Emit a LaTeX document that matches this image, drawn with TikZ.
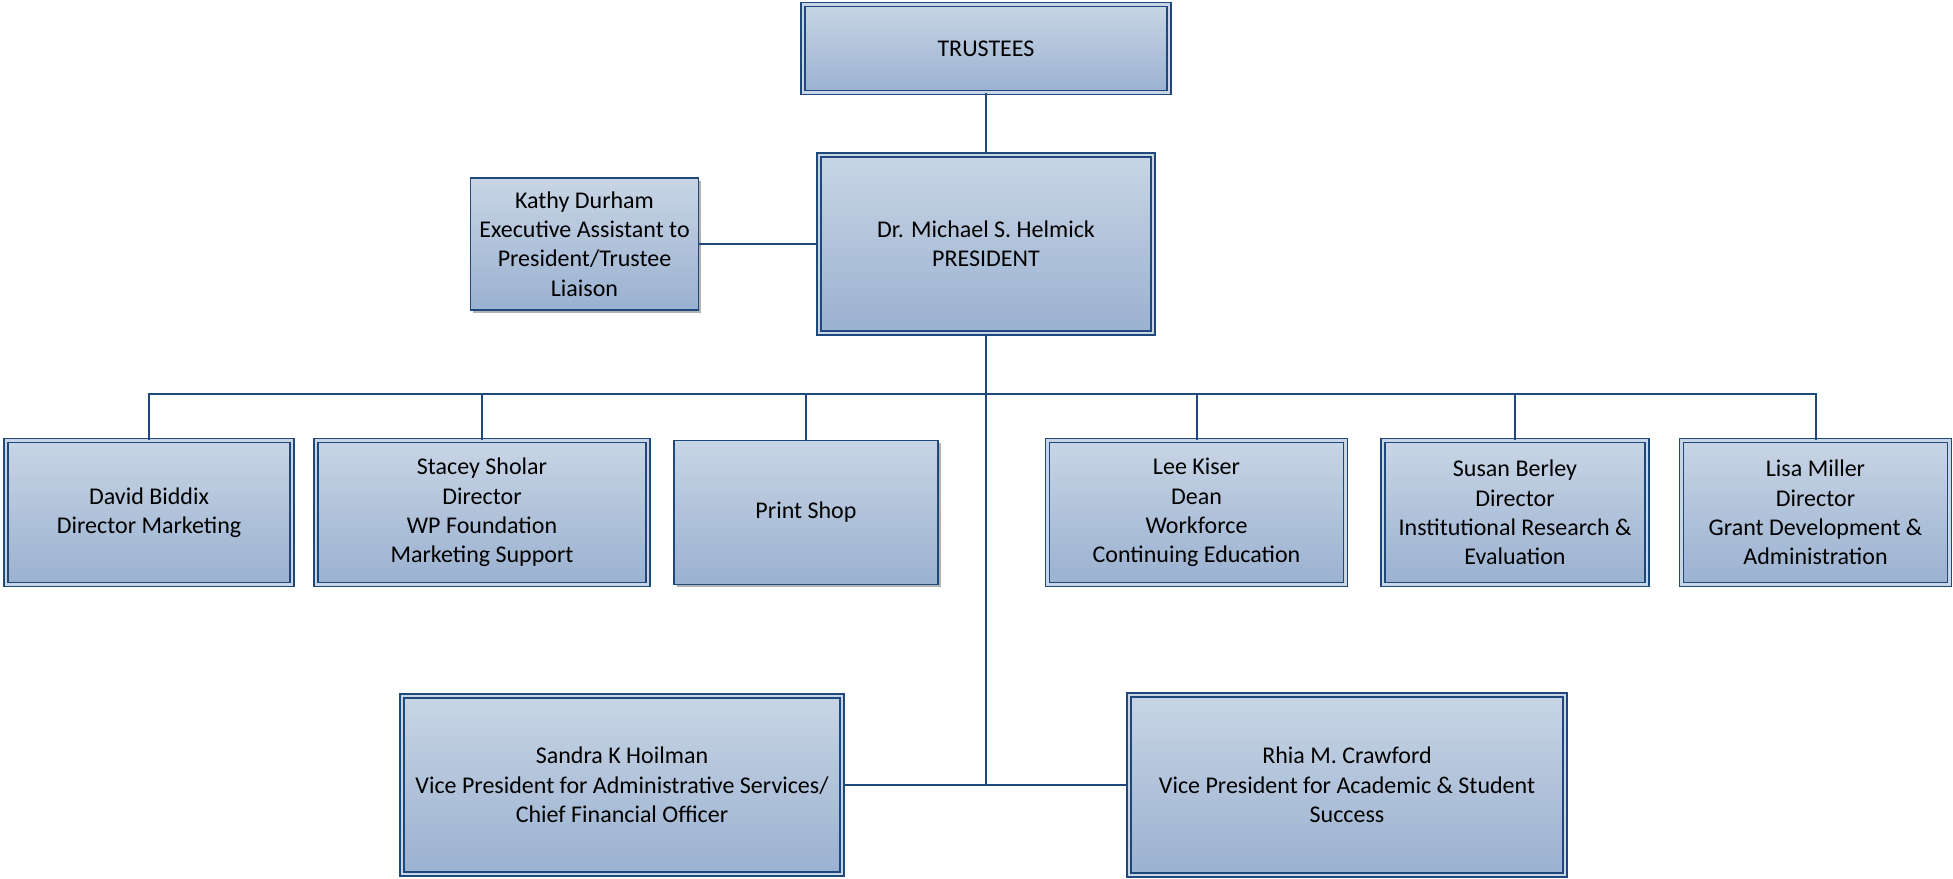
\documentclass[tikz,border=0pt]{standalone}
\usepackage{fontspec}
\setmainfont{Carlito}
\usetikzlibrary{shadows}
\definecolor{orgline}{RGB}{31,73,125}
\definecolor{boxtop}{RGB}{200,213,229}
\definecolor{boxbottom}{RGB}{154,177,208}

\begin{document}
\begin{tikzpicture}[x=0.5pt, y=-0.5pt,
    unit/.style ={draw=orgline, line width=0.8pt, top color=boxtop, bottom color=boxbottom,
      align=center, inner sep=2pt, font=\fontsize{12}{14.7}\selectfont,
      drop shadow={shadow xshift=1.4pt, shadow yshift=-1.4pt, fill=black, opacity=0.3}},
    office/.style ={unit, double=boxtop, double distance=1.1pt},
    link/.style ={draw=orgline, line width=1pt}]
   \useasboundingbox (0,0) rectangle (1953,878);
   \node[office, minimum width=183pt, minimum height=44pt] (trustees) at (986,48.5) {TRUSTEES};
   \node[office, minimum width=167pt, minimum height=89pt] (president) at (986,244) {Dr. Michael S. Helmick\\PRESIDENT};
   \node[unit, minimum width=114pt, minimum height=66pt] (kathy) at (584.5,244) {Kathy Durham\\Executive Assistant to\\President/Trustee\\Liaison};
   \node[office, minimum width=143pt, minimum height=72pt] (david) at (149,512.5) {David Biddix\\Director Marketing};
   \node[office, minimum width=166pt, minimum height=72pt] (stacey) at (482,512.5) {Stacey Sholar\\Director\\WP Foundation\\Marketing Support};
   \node[unit, minimum width=132pt, minimum height=72pt] (print) at (806,512.5) {Print Shop};
   \node[office, minimum width=149pt, minimum height=72pt] (lee) at (1196.5,512.5) {Lee Kiser\\Dean\\Workforce\\Continuing Education};
   \node[office, minimum width=132pt, minimum height=72pt] (susan) at (1515,512.5) {Susan Berley\\Director\\Institutional Research \&\\Evaluation};
   \node[office, minimum width=134pt, minimum height=72pt] (lisa) at (1815.5,512.5) {Lisa Miller\\Director\\Grant Development \&\\Administration};
   \node[office, minimum width=220pt, minimum height=89pt] (sandra) at (622,785) {Sandra K Hoilman\\Vice President for Administrative Services/\\Chief Financial Officer};
   \node[office, minimum width=218pt, minimum height=90pt] (rhia) at (1347,785) {Rhia M. Crawford\\Vice President for Academic \& Student\\Success};
   \coordinate (bus) at (986,394);
   \coordinate (vp) at (986,785);
   \draw[link] (trustees) -- (president);
   \draw[link] (kathy) -- (president);
   \draw[link] (president.south) -- (vp);
   \draw[link] (david.north) |- (bus) -| (lisa.north);
   \foreach \n in {stacey,print,lee,susan}
      \draw[link] (\n.north) -- (\n.north |- bus);
   \draw[link] (sandra.east) -- (rhia.west);
\end{tikzpicture}
\end{document}
